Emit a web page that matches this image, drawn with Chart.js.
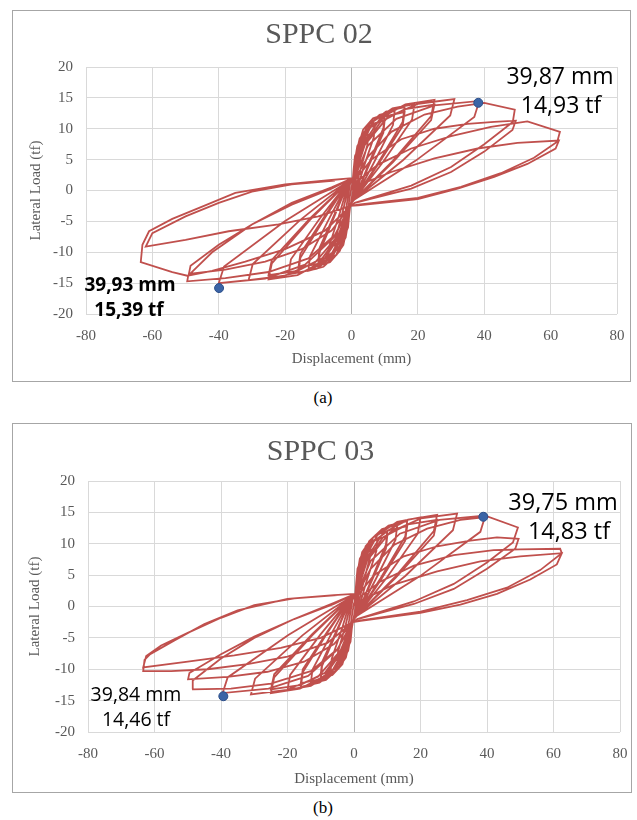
<!DOCTYPE html>
<html>
<head>
<meta charset="utf-8">
<script src="https://cdn.jsdelivr.net/npm/chart.js@4.4.1/dist/chart.umd.min.js"></script>
<style>
  body { margin: 0; background: #fff; width: 637px; height: 820px; position: relative; overflow: hidden; }
  .box { position: absolute; border: 1px solid #a6a6a6; box-sizing: border-box; }
  .box canvas { position: absolute; left: 0; top: 0; }
  .note { position: absolute; font-family: "Open Sans", sans-serif; color: #000; white-space: nowrap; transform: translate(-50%, -50%); }
  .cap { position: absolute; font-family: "Liberation Serif", serif; font-size: 17px; color: #000; transform: translate(-50%, -50%); }
</style>
</head>
<body>

<div class="box" id="boxA" style="left:12px; top:10px; width:619px; height:372px;">
  <canvas id="chartA" width="617" height="370"></canvas>
</div>
<div class="note" style="left:560px; top:75px; font-size:23px;">39,87 mm</div>
<div class="note" style="left:561px; top:104px; font-size:23px;">14,93 tf</div>
<div class="note" style="left:130px; top:284px; font-size:19px; font-weight:bold;">39,93 mm</div>
<div class="note" style="left:129px; top:309px; font-size:19px; font-weight:bold;">15,39 tf</div>
<div class="cap" style="left:323px; top:398px;">(a)</div>

<div class="box" id="boxB" style="left:12px; top:423px; width:620px; height:370px;">
  <canvas id="chartB" width="618" height="368"></canvas>
</div>
<div class="note" style="left:563px; top:501px; font-size:23.5px;">39,75 mm</div>
<div class="note" style="left:569px; top:530px; font-size:23.5px;">14,83 tf</div>
<div class="note" style="left:136px; top:693px; font-size:19.5px;">39,84 mm</div>
<div class="note" style="left:136px; top:718px; font-size:19.5px;">14,46 tf</div>
<div class="cap" style="left:323px; top:808px;">(b)</div>

<script>
// ===========================
// DATA
// ===========================
const xTicks = [-80, -60, -40, -20, 0, 20, 40, 60, 80];
const yTicks = [-20, -15, -10, -5, 0, 5, 10, 15, 20];

// SPPC 02 - one line per cycle
const disp02 = [
  0,0.5,1,1.5,1.3,0.5,0,-0.5,-1,-1.5,-1.3,-0.5,0,
  0.3,0.66,1.05,1.95,3,2.88,1.5,0.3,-0.3,-0.66,-1.05,-1.95,-3,-2.88,-1.5,-0.3,
  0.3,0.9,1.75,3.25,5,4.8,2.5,0.5,-0.3,-0.9,-1.75,-3.25,-5,-4.8,-2.5,-0.5,
  0.3,1.14,2.45,4.55,7,6.72,3.5,0.8,-0.3,-1.14,-2.45,-4.55,-7,-6.72,-3.5,-0.8,
  0.3,1.5,3.5,6.5,10,9.6,5,0.8,-0.3,-1.5,-3.5,-6.5,-10,-9.6,-5,-0.8,
  0.3,1.5,3.5,6.5,10,9.6,5,0.8,-0.3,-1.5,-3.5,-6.5,-10,-9.6,-5,-0.8,
  0.3,1.86,4.55,8.45,13,12.5,6.5,0.8,-0.3,-1.86,-4.55,-8.45,-13,-12.5,-6.5,-0.8,
  0.3,2.22,5.6,10.4,16,15.4,8,0.8,-0.3,-2.22,-5.6,-10.4,-16,-15.4,-8,-0.8,
  0.3,2.22,5.6,10.4,16,15.4,8,0.8,-0.3,-2.22,-5.6,-10.4,-16,-15.4,-8,-0.8,
  0.3,2.58,6.65,12.35,19,18.25,9.5,0.8,-0.3,-2.58,-6.65,-12.35,-19,-18.25,-9.5,-0.8,
  0.3,3.3,8.75,16.25,25,24,12.5,0.8,-0.3,-3.3,-8.75,-16.25,-25,-24,-12.5,-0.8,
  0.3,3.3,8.75,16.25,25,24,12.5,0.8,-0.3,-3.3,-8.75,-16.25,-25,-24,-12.5,-0.8,
  0.3,4.02,10.85,20.15,31,29.75,15.5,0.8,-0.3,-4.02,-10.85,-20.15,-31,-29.75,-15.5,-0.8,
  0.3,4.92,13.5,25,38.5,37,19.25,0.8,-0.3,-5.1,-14,-26,-40,-38.4,-20,-0.8,
  0.3,5,12,22,32,40,49.2,48.6,40,30,18,1,-0.3,-5,-13,-25,-38,-49.5,-49.2,-42,-30,-18,-6,-0.5,
  0.3,6,15,25,35,43,49.5,48.5,40,30,18,1,-0.3,-6,-15,-26,-38,-49,-48.5,-40,-30,-18,-6,-0.5,
  0.5,8,18,30,42,53,62.8,62,55,45,33,20,2,-0.3,-8,-20,-32,-42,-49.5,-54,-63.5,-63,-61,-54,-45,-35,-20,-6,0,
  0.5,12,25,38,50,62.5,61.5,53,43,32,20,2,-0.3,-10,-22,-37,-50,-62,-60,-50,-40,-30,-18,-5
];
const load02 = [
  0,2,3.2,4,3,0,-1.5,-3,-4.2,-5,-4,-1,0.5,
  1.2,3.5,5.6,6.65,7,5.74,2.31,-1.5,-2.2,-3.75,-6,-7.1,-7.5,-6.15,-2.5,1.5,
  1.2,4.5,7.2,8.55,9,7.4,3,-1.5,-2.2,-4.75,-7.6,-9,-9.5,-7.8,-3.1,1.5,
  1.2,5.25,8.4,10,10.5,8.6,3.5,-1.5,-2.2,-5.5,-8.8,-10.45,-11,-9,-3.6,1.5,
  1.2,6.15,9.85,11.7,12.3,10.1,4.05,-1.5,-2.2,-6.1,-9.75,-11.6,-12.2,-10,-4,1.5,
  1.2,5.7,9.1,10.8,11.4,9.35,3.75,-1.5,-2.2,-5.65,-9.05,-10.75,-11.3,-9.25,-3.7,1.5,
  1.2,6.45,10.3,12.25,12.9,10.6,4.25,-1.5,-2.2,-6.5,-10.4,-12.35,-13,-10.65,-4.3,1.5,
  1.2,6.75,10.8,12.8,13.5,11.1,4.45,-1.5,-2.2,-6.65,-10.65,-12.65,-13.3,-10.9,-4.4,1.5,
  1.2,6.35,10.15,12.05,12.7,10.4,4.2,-1.5,-2.2,-6.25,-10,-11.9,-12.5,-10.25,-4.1,1.5,
  1.2,7,11.2,13.3,14,11.5,4.6,-1.5,-2.2,-6.8,-10.9,-12.9,-13.6,-11.15,-4.5,1.5,
  1.2,7.35,11.75,13.95,14.7,12.05,4.85,-1.5,-2.2,-7.2,-11.5,-13.7,-14.4,-11.8,-4.75,1.5,
  1.2,6.95,11.1,13.2,13.9,11.4,4.6,-1.5,-2.2,-6.85,-10.95,-13,-13.7,-11.25,-4.5,1.5,
  1.2,7.4,11.85,14.05,14.8,12.15,4.9,-1.5,-2.2,-7.25,-11.6,-13.8,-14.5,-11.9,-4.8,1.5,
  1.2,7.25,11.6,13.8,14.5,11.9,4.8,-1.5,-2.2,-7.5,-12,-14.25,-15,-12.3,-4.95,1.5,
  1.2,5.5,9.5,12.3,13.6,14.2,13.1,11.1,7.5,3.8,0.8,-2,-2.5,-7.2,-11,-13.2,-14.2,-14.7,-13.8,-10,-5.5,-2,0.5,1.8,
  1.2,5,8.3,10,10.8,11.1,11.3,9.8,6.3,3,0.3,-2,-2.5,-6.5,-9.5,-11.5,-12.8,-13.5,-12.2,-8.8,-5.5,-2.3,0.3,1.8,
  1,4.2,6.8,8.8,10.3,11.2,9.5,7.9,5.3,2.8,0.6,-1.2,-2.3,-2.5,-6.5,-9.5,-11.5,-13,-13.8,-13.2,-11.6,-8.8,-6.6,-4.6,-2.6,-0.4,1,1.7,2,
  0.5,3,5.2,6.8,7.7,8.1,6.8,4.3,2.2,0.3,-1.4,-2.4,-2.5,-4.2,-5.5,-6.6,-8,-9.1,-6.9,-4.2,-2,-0.2,1,1.6
];
const peak02 = [[38.2, 14.2], [-39.9, -15.8]];

// SPPC 03 - one line per cycle
const disp03 = [
  0,0.5,1,1.5,1.3,0.5,0,-0.5,-1,-1.5,-1.3,-0.5,0,
  0.3,0.66,1.05,1.95,3,2.88,1.5,0.3,-0.3,-0.66,-1.05,-1.95,-3,-2.88,-1.5,-0.3,
  0.3,0.9,1.75,3.25,5,4.8,2.5,0.5,-0.3,-0.9,-1.75,-3.25,-5,-4.8,-2.5,-0.5,
  0.3,1.14,2.45,4.55,7,6.72,3.5,0.8,-0.3,-1.14,-2.45,-4.55,-7,-6.72,-3.5,-0.8,
  0.3,1.5,3.5,6.5,10,9.6,5,0.8,-0.3,-1.5,-3.5,-6.5,-10,-9.6,-5,-0.8,
  0.3,1.5,3.5,6.5,10,9.6,5,0.8,-0.3,-1.5,-3.5,-6.5,-10,-9.6,-5,-0.8,
  0.3,1.86,4.55,8.45,13,12.5,6.5,0.8,-0.3,-1.86,-4.55,-8.45,-13,-12.5,-6.5,-0.8,
  0.3,2.22,5.6,10.4,16,15.4,8,0.8,-0.3,-2.22,-5.6,-10.4,-16,-15.4,-8,-0.8,
  0.3,2.22,5.6,10.4,16,15.4,8,0.8,-0.3,-2.22,-5.6,-10.4,-16,-15.4,-8,-0.8,
  0.3,2.7,7,13,20,19.2,10,0.8,-0.3,-2.7,-7,-13,-20,-19.2,-10,-0.8,
  0.3,3.3,8.75,16.25,25,24,12.5,0.8,-0.3,-3.3,-8.75,-16.25,-25,-24,-12.5,-0.8,
  0.3,3.3,8.75,16.25,25,24,12.5,0.8,-0.3,-3.3,-8.75,-16.25,-25,-24,-12.5,-0.8,
  0.3,4.02,10.85,20.15,31,29.75,15.5,0.8,-0.3,-4.02,-10.85,-20.15,-31,-29.75,-15.5,-0.8,
  0.3,5,13.8,25.7,39.5,38,19.75,0.8,-0.3,-5,-13.8,-25.7,-39.5,-38,-19.75,-0.8,
  0.3,5,12,22,32,40.3,49.3,47.8,40,30,18,1,-0.3,-5,-13,-25,-37,-48.7,-48.5,-40,-30,-18,-6,-0.5,
  0.3,6,15,25,35,43,49.5,48.5,40,30,18,1,-0.3,-6,-15,-26,-38,-49.9,-49.5,-40,-30,-18,-6,-0.5,
  0.5,8,18,30,42,50,62,62.5,56,46,34,20,2,-0.3,-8,-20,-32,-44,-55,-63.4,-63,-61.3,-54,-45,-35,-20,-6,0,
  0.5,12,25,38,50,62.5,61,53,43,32,20,2,-0.3,-10,-22,-36,-50,-63.4,-62.5,-58,-50,-40,-30,-18,-5
];
const load03 = [
  0,2,3.2,4,3,0,-1.5,-3,-4.2,-5,-4,-1,0.5,
  1.2,3.75,6,7.1,7.5,6.15,2.5,-1.5,-2.2,-3.5,-5.6,-6.65,-7,-5.75,-2.3,1.5,
  1.2,4.75,7.6,9,9.5,7.8,3.1,-1.5,-2.2,-4.4,-7.05,-8.35,-8.8,-7.2,-2.9,1.5,
  1.2,5.4,8.65,10.25,10.8,8.85,3.55,-1.5,-2.2,-5.1,-8.15,-9.7,-10.2,-8.35,-3.35,1.5,
  1.2,6,9.6,11.4,12,9.85,3.95,-1.5,-2.2,-5.75,-9.2,-10.9,-11.5,-9.45,-3.8,1.5,
  1.2,5.6,8.95,10.65,11.2,9.2,3.7,-1.5,-2.2,-5.4,-8.65,-10.25,-10.8,-8.85,-3.55,1.5,
  1.2,6.5,10.4,12.35,13,10.65,4.3,-1.5,-2.2,-6.15,-9.85,-11.7,-12.3,-10.1,-4.05,1.5,
  1.2,6.8,10.9,12.9,13.6,11.15,4.5,-1.5,-2.2,-6.4,-10.25,-12.15,-12.8,-10.5,-4.2,1.5,
  1.2,6.4,10.25,12.15,12.8,10.5,4.2,-1.5,-2.2,-6.1,-9.75,-11.6,-12.2,-10,-4,1.5,
  1.2,7.1,11.35,13.5,14.2,11.65,4.7,-1.5,-2.2,-6.65,-10.65,-12.65,-13.3,-10.9,-4.4,1.5,
  1.2,7.3,11.7,13.85,14.6,12,4.8,-1.5,-2.2,-6.9,-11.05,-13.1,-13.8,-11.3,-4.55,1.5,
  1.2,6.9,11.05,13.1,13.8,11.3,4.55,-1.5,-2.2,-6.6,-10.55,-12.55,-13.2,-10.8,-4.35,1.5,
  1.2,7.4,11.85,14.05,14.8,12.15,4.9,-1.5,-2.2,-7,-11.2,-13.3,-14,-11.5,-4.6,1.5,
  1.2,7.25,11.6,13.8,14.5,11.9,4.8,-1.5,-2.2,-6.9,-11.05,-13.1,-13.8,-11.3,-4.55,1.5,
  1.2,6,9.8,12.4,13.8,14.3,12.6,10.2,7,3.6,0.8,-2,-2.5,-6.8,-10.3,-12.3,-13.1,-13.2,-11.8,-8.3,-5,-2,0.6,1.8,
  1.2,5,8,9.6,10.5,11,10.8,9.2,6,2.8,0.4,-2,-2.5,-6,-8.8,-10.4,-11.2,-11.6,-10.6,-7.6,-4.8,-2,0.4,1.8,
  1,4,6.5,8.2,9,9.1,9.2,8.5,5.8,3,1,-0.8,-2.2,-2.5,-5.8,-8,-9.2,-10,-10.3,-10.3,-8.5,-7.6,-5.4,-2.8,-0.6,1.2,1.8,2,
  0.5,3.5,5.6,7.2,8,8.5,6.7,4.3,2,0.3,-1,-2.3,-2.5,-5,-6.6,-7.8,-8.8,-9.7,-7.9,-6.2,-4.2,-1.8,0.2,1.3,1.8
];
const peak03 = [[38.9, 14.3], [-39.3, -14.3]];

// ===========================
// DRAW ONE HYSTERESIS CHART
// ===========================
function drawLoop(canvasId, title, disp, load, peaks, lay) {
    const ctx = document.getElementById(canvasId).getContext("2d");
    const gray = "#595959";
    const tickFont = { family: "Liberation Serif", size: 15 };

    return new Chart(ctx, {
        type: "scatter",
        data: {
            datasets: [
                {
                    data: peaks.map(p => ({ x: p[0], y: p[1] })),
                    pointRadius: 4.5,
                    backgroundColor: "#3b64a6",
                    borderColor: "#2c4f8a",
                    borderWidth: 1,
                    order: 0
                },
                {
                    data: disp.map((x, i) => ({ x: x, y: load[i] })),
                    showLine: true,
                    pointRadius: 0,
                    borderColor: "#c0504d",
                    borderWidth: 1.8,
                    tension: 0,
                    order: 1
                }
            ]
        },
        options: {
            responsive: false,
            animation: false,
            layout: { padding: { left: lay.padL, right: lay.padR, top: 0, bottom: lay.padB } },
            plugins: {
                legend: { display: false },
                tooltip: { enabled: false },
                title: {
                    display: true,
                    text: title,
                    color: gray,
                    font: { family: "Liberation Serif", size: 30, weight: "normal" },
                    padding: { top: lay.titleTop, bottom: lay.titleBottom }
                }
            },
            scales: {
                x: {
                    type: "linear",
                    min: xTicks[0],
                    max: xTicks[xTicks.length - 1],
                    afterBuildTicks: s => { s.ticks = xTicks.map(v => ({ value: v })); },
                    afterFit: s => { s.height = lay.xH; },
                    grid: {
                        color: c => c.tick && c.tick.value === 0 ? "#b4b4b4" : "#d9d9d9",
                        drawTicks: true,
                        tickLength: 10,
                        tickColor: "rgba(0,0,0,0)"
                    },
                    border: { display: false },
                    ticks: { color: gray, font: tickFont, padding: 3 },
                    title: {
                        display: true,
                        text: "Displacement (mm)",
                        color: gray,
                        font: { family: "Liberation Serif", size: 15 },
                        padding: { top: 0, bottom: lay.xTitlePad }
                    }
                },
                y: {
                    type: "linear",
                    min: yTicks[0],
                    max: yTicks[yTicks.length - 1],
                    afterBuildTicks: s => { s.ticks = yTicks.map(v => ({ value: v })); },
                    afterFit: s => { s.width = lay.yW; },
                    grid: { color: "#d9d9d9", drawTicks: false },
                    border: { display: false },
                    ticks: { color: gray, font: tickFont, padding: 13 },
                    title: {
                        display: true,
                        text: "Lateral Load (tf)",
                        color: gray,
                        font: { family: "Liberation Serif", size: 15 },
                        padding: { top: lay.yTitlePad, bottom: 0 }
                    }
                }
            }
        }
    });
}

drawLoop("chartA", "SPPC 02", disp02, load02, peak02,
    { padL: 8, padR: 13, padB: 10, titleTop: 6, titleBottom: 14, xH: 57, xTitlePad: 3, yW: 65, yTitlePad: 6 });

drawLoop("chartB", "SPPC 03", disp03, load03, peak03,
    { padL: 8, padR: 11, padB: 4, titleTop: 10, titleBottom: 11, xH: 56, xTitlePad: 0, yW: 67, yTitlePad: 5.5 });
</script>
</body>
</html>
